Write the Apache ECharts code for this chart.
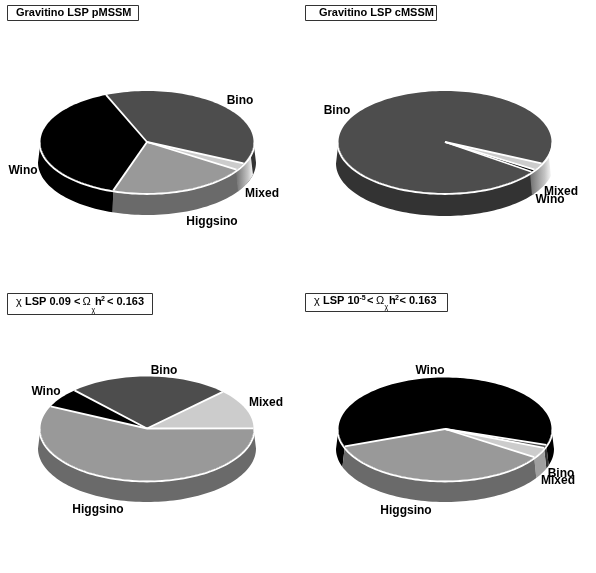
<!DOCTYPE html>
<html>
<head>
<meta charset="utf-8">
<style>
    html, body { margin: 0; padding: 0; background: #fff; }
    #main { width: 596px; height: 573px; }
</style>
<script src="https://cdn.jsdelivr.net/npm/echarts@6/dist/echarts.min.js"></script>
</head>
<body>
<div id="main"></div>
<script>
// shares in percent, clockwise from each pie's start angle
var names1 = ['Bino', 'Mixed', 'Higgsino', 'Wino'];
var values1 = [38.2, 2.2, 21.0, 38.6];
var names2 = ['Bino', 'Mixed', 'Wino'];
var values2 = [97.0, 2.2, 0.8];
var names3 = ['Bino', 'Mixed', 'Higgsino', 'Wino'];
var values3 = [24.5, 12.4, 57.0, 6.1];
var names4 = ['Wino', 'Bino', 'Mixed', 'Higgsino'];
var values4 = [60.5, 1.0, 3.2, 35.3];

var font = '"Liberation Sans", Arial, sans-serif';
var topColor = { Bino: '#4d4d4d', Mixed: '#cccccc', Higgsino: '#999999', Wino: '#000000' };
var sideColor = { Bino: '#333333', Mixed: '#a0a0a0', Higgsino: '#6a6a6a', Wino: '#000000' };

// layout of each pie, start is the angle of the first slice edge
var pies = [
    {
        names: names1, values: values1, cx: 147, cy: 142, ry: 51, start: 112.6, bottomY: 215,
        glow: [238, 253],
        spots: { Bino: [240, 101], Mixed: [262, 194], Higgsino: [212, 222], Wino: [23, 171] }
    },
    {
        names: names2, values: values2, cx: 445, cy: 142, ry: 51, start: -35.7, bottomY: 216,
        glow: [532, 551],
        spots: { Bino: [337, 111], Mixed: [561, 192], Wino: [550, 200] }
    },
    {
        names: names3, values: values3, cx: 147, cy: 428.5, ry: 52, start: 132.9, bottomY: 502,
        spots: { Bino: [164, 371], Mixed: [266, 403], Higgsino: [98, 510], Wino: [46, 392] }
    },
    {
        names: names4, values: values4, cx: 445, cy: 429, ry: 51.5, start: 199.8, bottomY: 502,
        spots: { Wino: [430, 371], Bino: [561, 474], Mixed: [558, 481], Higgsino: [406, 511] }
    }
];
var rx = 106.5;

function toRad(d) { return d * Math.PI / 180; }
function toDeg(r) { return r * 180 / Math.PI; }

function arcPoints(cx, cy, a, b, from, to) {
    var pts = [];
    var n = Math.max(2, Math.ceil(Math.abs(to - from) / 2));
    for (var i = 0; i <= n; i++) {
        var t = toRad(from + (to - from) * i / n);
        pts.push([cx + a * Math.cos(t), cy - b * Math.sin(t)]);
    }
    return pts;
}

// slice edges, walking clockwise so angles go down
function sliceEdges(pie) {
    var total = pie.values.reduce(function (s, v) { return s + v; }, 0);
    var at = pie.start;
    return pie.values.map(function (v) {
        var from = at;
        at -= v / total * 360;
        return [from, at];
    });
}

// the part of the rim wall of [from,to] that faces the viewer (180..360 degrees)
function frontPart(from, to) {
    var out = [];
    [-360, 0, 360].forEach(function (k) {
        var hi = Math.min(from + k, 360);
        var lo = Math.max(to + k, 180);
        if (hi > lo) out.push([hi, lo]);
    });
    return out;
}

function wallBottom(pie) {
    var ry = pie.ry + 1.5;
    return { rx: rx + 2.5, ry: ry, cy: pie.bottomY - ry };
}

function wall(pie, hi, lo) {
    var b = wallBottom(pie);
    var upper = arcPoints(pie.cx, pie.cy, rx, pie.ry, hi, lo);
    var lower = arcPoints(pie.cx, b.cy, b.rx, b.ry, lo, hi);
    return upper.concat(lower);
}

function wallLayer(pie, edges) {
    return function (params) {
        var name = pie.names[params.dataIndex];
        var e = edges[params.dataIndex];
        return {
            type: 'group',
            children: frontPart(e[0], e[1]).map(function (p) {
                return {
                    type: 'polygon',
                    shape: { points: wall(pie, p[0], p[1]) },
                    style: { fill: sideColor[name] }
                };
            })
        };
    };
}

// pale streak where the thin slices meet on the wall
function glowLayer(pie) {
    return function (params) {
        if (!pie.glow || params.dataIndex > 0) return null;
        var b = wallBottom(pie);
        var hi = 360 - toDeg(Math.acos((pie.glow[1] - pie.cx) / b.rx));
        var lo = 360 - toDeg(Math.acos((pie.glow[0] - pie.cx) / b.rx));
        return {
            type: 'polygon',
            shape: { points: wall(pie, hi, lo) },
            style: {
                fill: new echarts.graphic.LinearGradient(0, 0, 1, 0, [
                    { offset: 0, color: '#707070' },
                    { offset: 0.35, color: '#9a9a9a' },
                    { offset: 0.7, color: '#c4c4c4' },
                    { offset: 1, color: '#f6f6f6' }
                ])
            }
        };
    };
}

function topLayer(pie, edges) {
    return function (params) {
        var name = pie.names[params.dataIndex];
        var e = edges[params.dataIndex];
        var pts = [[pie.cx, pie.cy]].concat(arcPoints(pie.cx, pie.cy, rx, pie.ry, e[0], e[1]));
        return {
            type: 'polygon',
            shape: { points: pts },
            style: { fill: topColor[name] }
        };
    };
}

// white dividers go on top of the fills
function lineLayer(pie, edges) {
    return function (params) {
        var t = toRad(edges[params.dataIndex][0]);
        return {
            type: 'line',
            shape: {
                x1: pie.cx, y1: pie.cy,
                x2: pie.cx + rx * Math.cos(t), y2: pie.cy - pie.ry * Math.sin(t)
            },
            style: { stroke: '#fff', lineWidth: 1.8 }
        };
    };
}

// white rim along the front edge
function rimLayer(pie) {
    return function (params) {
        if (params.dataIndex > 0) return null;
        return {
            type: 'polyline',
            shape: { points: arcPoints(pie.cx, pie.cy + 0.5, rx + 1, pie.ry + 0.5, 180, 360) },
            style: { stroke: '#fff', lineWidth: 1.8, fill: 'none' }
        };
    };
}

function labelLayer(pie) {
    return function (params) {
        var name = pie.names[params.dataIndex];
        var spot = pie.spots[name];
        return {
            type: 'text',
            x: spot[0],
            y: spot[1],
            style: {
                text: name,
                fill: '#000',
                font: 'bold 12px ' + font,
                align: 'center',
                verticalAlign: 'middle'
            }
        };
    };
}

var series = [];
pies.forEach(function (pie) {
    var edges = sliceEdges(pie);
    var rows = pie.values.map(function (v, i) { return { name: pie.names[i], value: v }; });
    [
        wallLayer(pie, edges),
        glowLayer(pie),
        topLayer(pie, edges),
        lineLayer(pie, edges),
        rimLayer(pie),
        labelLayer(pie)
    ].forEach(function (fn, i) {
        series.push({
            type: 'custom',
            coordinateSystem: 'none',
            silent: true,
            z: 2 + i,
            data: rows,
            renderItem: fn
        });
    });
});

// title boxes
function box(x, y, w, h) {
    return {
        type: 'rect',
        shape: { x: x + 0.5, y: y + 0.5, width: w, height: h },
        style: { fill: '#fff', stroke: '#333', lineWidth: 1 }
    };
}
function txt(s, x, base, size, weight) {
    return {
        type: 'text',
        x: x,
        y: base - size * 0.36,
        z: 3,
        style: {
            text: s,
            fill: '#000',
            font: (weight || 'bold') + ' ' + size + 'px ' + font,
            verticalAlign: 'middle'
        }
    };
}

var titles = [
    box(7, 5, 131, 15),
    txt('Gravitino LSP pMSSM', 16, 16.5, 11),
    box(305, 5, 131, 15),
    txt('Gravitino LSP cMSSM', 319, 16.5, 11),

    box(7, 293, 145, 21),
    txt('\u03c7', 16, 306, 11, 'normal'),
    txt('LSP 0.09 <', 25, 306, 11),
    txt('\u03a9', 82.5, 306, 11, 'normal'),
    txt('\u03c7', 91.5, 313, 7, 'normal'),
    txt('h', 95, 306, 11),
    txt('2', 101, 302, 7),
    txt('< 0.163', 107, 306, 11),

    box(305, 293, 142, 18),
    txt('\u03c7', 314, 305, 11, 'normal'),
    txt('LSP 10', 323, 305, 11),
    txt('-5', 359.5, 301, 7),
    txt('<', 367, 305, 11),
    txt('\u03a9', 376, 305, 11, 'normal'),
    txt('\u03c7', 384.5, 310, 7, 'normal'),
    txt('h', 389, 305, 11),
    txt('2', 395, 301, 7),
    txt('< 0.163', 399.5, 305, 11)
];

var chart = echarts.init(document.getElementById('main'));
chart.setOption({
    animation: false,
    backgroundColor: '#fff',
    graphic: { elements: titles },
    series: series
});
</script>
</body>
</html>
